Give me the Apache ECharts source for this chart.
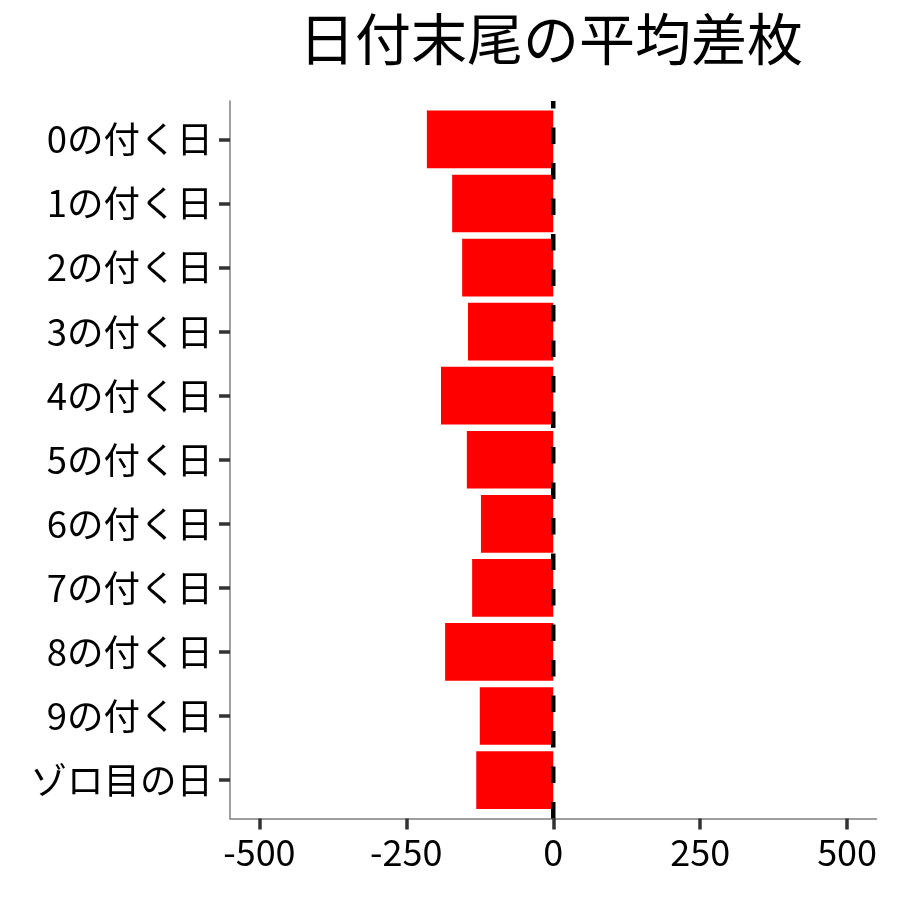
<!DOCTYPE html>
<html>
<head>
<meta charset="utf-8">
<script src="https://cdn.jsdelivr.net/npm/echarts@6/dist/echarts.min.js"></script>
<style>
  html, body { margin: 0; padding: 0; background: #fff; }
  #chart { width: 900px; height: 900px; }
</style>
</head>
<body>
<div id="chart"></div>
<script>
// 日付末尾ごとの平均差枚（上から順）
var categories = ['0の付く日', '1の付く日', '2の付く日', '3の付く日', '4の付く日',
  '5の付く日', '6の付く日', '7の付く日', '8の付く日', '9の付く日', 'ゾロ目の日'];
var avgDiff = [-215, -172, -155, -145, -191, -147, -123, -138, -184, -125, -131];
var xTicks = [-500, -250, 0, 250, 500];

var FONT = '"Noto Sans CJK JP", "Noto Sans", sans-serif';
var idx = categories.map(function (c, i) { return i; });

var chart = echarts.init(document.getElementById('chart'));
chart.setOption({
  animation: false,
  title: {
    text: '日付末尾の平均差枚',
    left: 546,
    top: 6,
    textAlign: 'center',
    textStyle: {fontFamily: FONT, fontSize: 56, fontWeight: 'normal', color: '#000'}
  },
  grid: {left: 230, right: 23.5, top: 101, bottom: 81.5, containLabel: false},
  xAxis: {
    type: 'value',
    min: -550,
    max: 550,
    splitLine: {show: false},
    axisLine: {show: true, onZero: false, lineStyle: {color: '#7f7f7f', width: 1.5}},
    axisTick: {show: true, customValues: xTicks, length: 11, lineStyle: {color: '#333', width: 3.5}},
    axisLabel: {
      customValues: xTicks, margin: 16,
      fontFamily: FONT, fontSize: 36, color: '#000'
    }
  },
  yAxis: {
    type: 'value',
    min: -0.6,
    max: 10.6,
    inverse: true,
    splitLine: {show: false},
    axisLine: {show: true, onZero: false, lineStyle: {color: '#7f7f7f', width: 1.5}},
    axisTick: {show: true, customValues: idx, length: 11, lineStyle: {color: '#333', width: 3.5}},
    axisLabel: {
      customValues: idx, margin: 17,
      fontFamily: FONT, fontSize: 36.5, color: '#000',
      formatter: function (v) { return categories[Math.round(v)]; }
    }
  },
  series: [
    {
      // 横棒：値軸どうしなので custom で描く
      type: 'custom',
      data: avgDiff.map(function (v, i) { return [v, i]; }),
      encode: {x: 0, y: 1},
      renderItem: function (params, api) {
        var p0 = api.coord([0, api.value(1)]);
        var p1 = api.coord([api.value(0), api.value(1)]);
        var h = api.size([0, 0.9])[1];
        return {
          type: 'rect',
          shape: {x: Math.min(p0[0], p1[0]), y: p0[1] - h / 2, width: Math.abs(p1[0] - p0[0]), height: h},
          style: {fill: '#ff0000'}
        };
      },
      z: 2
    },
    {
      type: 'line',
      symbol: 'none',
      silent: true,
      data: [[0, 10.6], [0, -0.6]],
      lineStyle: {color: '#000', width: 4.5, type: [16.5, 19]},
      z: 5
    }
  ]
});
</script>
</body>
</html>
